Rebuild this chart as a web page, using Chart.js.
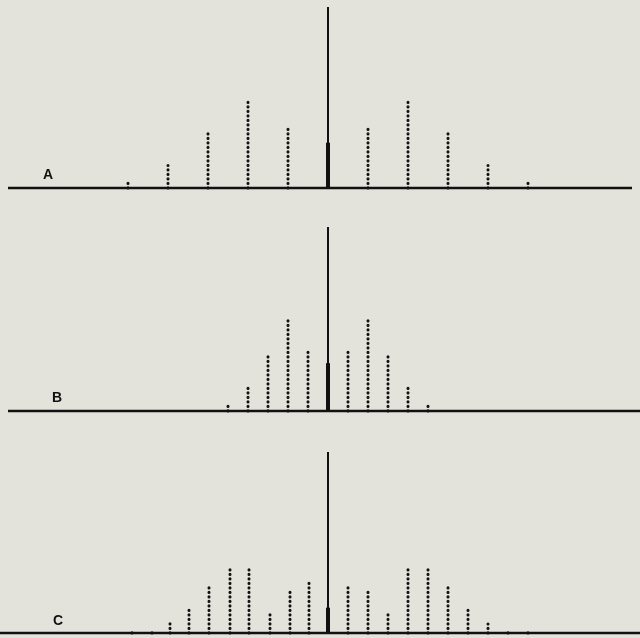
<!DOCTYPE html>
<html>
<head>
<meta charset="utf-8">
<title>FM spectra</title>
<script src="https://cdn.jsdelivr.net/npm/chart.js@4.4.1/dist/chart.umd.min.js"></script>
<style>
  html, body { margin: 0; padding: 0; background: #e3e3dc; }
  #wrap { position: relative; width: 640px; height: 638px; overflow: hidden; }
  #wrap canvas { position: absolute; left: 0; }
</style>
</head>
<body>
<div id="wrap">
  <canvas id="chartA" width="640" height="200" style="top:0"></canvas>
  <canvas id="chartB" width="640" height="215" style="top:205px"></canvas>
  <canvas id="chartC" width="640" height="213" style="top:425px"></canvas>
</div>
<script>
// Sideband offsets (in units of the narrow line spacing) and heights,
// with the unmodulated carrier taken as 100
const reference = 100;

const offsetsA = [-10, -8, -6, -4, -2, 2, 4, 6, 8, 10];
const sidebandsA = [3.5, 12.5, 30, 49, 33, 34, 49.5, 30.5, 12.5, 4.5];
const carrierA = 25;

const offsetsB = [-5, -4, -3, -2, -1, 1, 2, 3, 4, 5];
const sidebandsB = [3.5, 13, 31, 49.5, 33.5, 33.5, 49.5, 30.5, 13, 4];
const carrierB = 26;

const offsetsC = [-9.8, -8.8, -7.9, -6.95, -5.95, -4.9, -3.95, -2.9, -1.9, -0.95, 1, 2, 3, 4, 5, 6, 7, 8, 9, 10];
const sidebandsC = [1, 2, 5.5, 13, 26, 36, 35, 10.5, 24, 27.5, 27, 24, 12, 36, 36, 26, 13, 5, 1.5, 1];
const carrierC = 14;

// baseline extent per panel, same units as the offsets
const baselineA = [-16, 15.2];
const baselineB = [-16, 15.6];
const baselineC = [-16.4, 15.6];

const panelLabels = ["A", "B", "C"];

const ink = "#111111";

// vertical stems from 0 up to each value, split apart with null gaps
function stemPoints(offsets, values) {
  return offsets.flatMap((x, i) => [
    { x, y: 0 },
    { x, y: values[i] },
    { x, y: null },
  ]);
}

// Draws the panel letter
const panelLabel = {
  id: "panelLabel",
  afterDraw(chart, args, opts) {
    const ctx = chart.ctx;
    ctx.save();
    ctx.font = "900 14px 'Liberation Sans', Arial, sans-serif";
    ctx.fillStyle = ink;
    ctx.textAlign = "center";
    ctx.textBaseline = "middle";
    ctx.fillText(opts.text, opts.x, opts.y);
    ctx.restore();
  },
};

function makePanel(id, offsets, values, carrier, baseline, label, labelPos, pad) {
  return new Chart(document.getElementById(id), {
    type: "line",
    data: {
      datasets: [
        // baseline
        {
          data: baseline.map((x) => ({ x, y: 0 })),
          borderColor: ink,
          borderWidth: 2.5,
          clip: false,
        },
        // unmodulated carrier reference
        {
          data: [{ x: 0, y: 0 }, { x: 0, y: reference }],
          borderColor: ink,
          borderWidth: 2,
          clip: false,
        },
        // carrier amplitude
        {
          data: [{ x: 0, y: 0 }, { x: 0, y: carrier }],
          borderColor: ink,
          borderWidth: 4,
          clip: false,
        },
        // dotted sidebands, round dots
        {
          data: stemPoints(offsets, values),
          borderColor: ink,
          borderWidth: 3,
          borderDash: [0.3, 4.2],
          borderCapStyle: "round",
          spanGaps: false,
          clip: false,
        },
      ],
    },
    options: {
      responsive: false,
      animation: false,
      events: [],
      layout: { padding: pad },
      elements: {
        point: { radius: 0 },
        line: { tension: 0, borderCapStyle: "butt", fill: false },
      },
      scales: {
        x: { type: "linear", display: false, min: -16.4, max: 15.6 },
        y: { type: "linear", display: false, min: 0, max: reference },
      },
      plugins: {
        legend: { display: false },
        tooltip: { enabled: false },
        panelLabel: { text: label, x: labelPos[0], y: labelPos[1] },
      },
    },
    plugins: [panelLabel],
  });
}

makePanel("chartA", offsetsA, sidebandsA, carrierA, baselineA, panelLabels[0], [48, 175], { top: 7, bottom: 12, left: 0, right: 0 });
makePanel("chartB", offsetsB, sidebandsB, carrierB, baselineB, panelLabels[1], [57, 193], { top: 22, bottom: 9, left: 0, right: 0 });
makePanel("chartC", offsetsC, sidebandsC, carrierC, baselineC, panelLabels[2], [58, 196], { top: 27, bottom: 5, left: 0, right: 0 });
</script>
</body>
</html>
